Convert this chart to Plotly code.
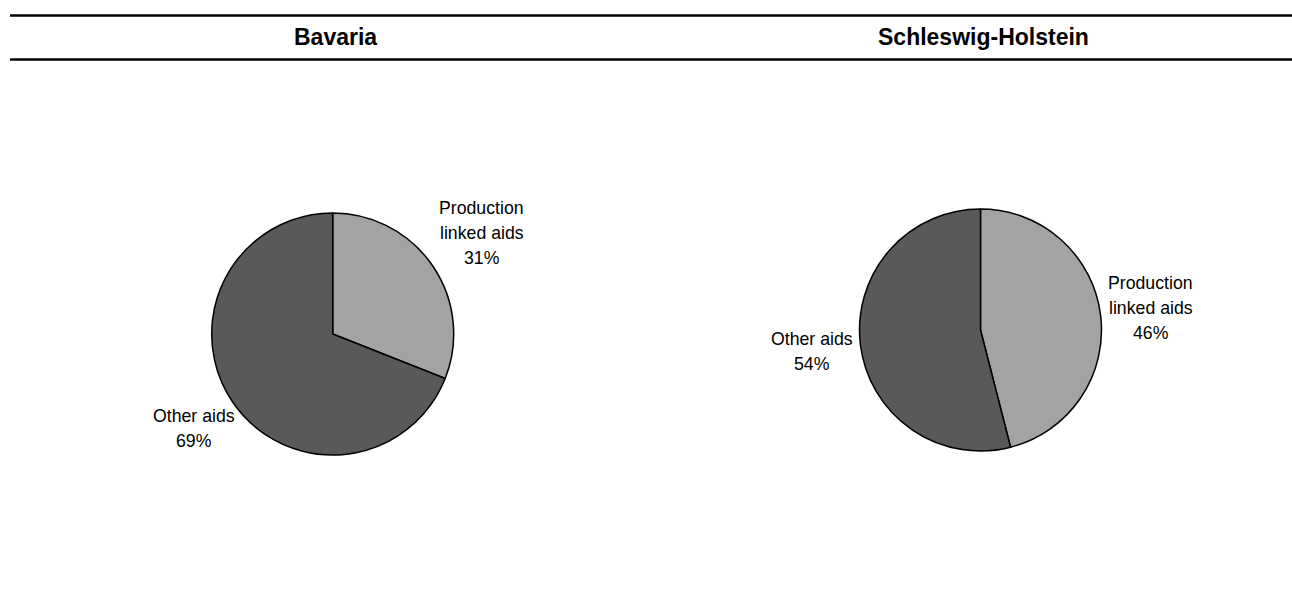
import math
import plotly.graph_objects as go

# ---- data -------------------------------------------------------------
regions = ["Bavaria", "Schleswig-Holstein"]
aid_types = ["Production linked aids", "Other aids"]
aid_label_lines = [["Production", "linked aids"], ["Other aids"]]
bavaria_share = [31, 69]
schleswig_holstein_share = [46, 54]
slice_colors = ["#a3a3a3", "#595959"]

# ---- layout geometry (pixels) ----------------------------------------
W, H = 1292, 601
pie_centers = [(332.7, 334.0), (980.5, 330.0)]
R = 121
LABEL_SIZE = 17.7
TITLE_SIZE = 23
LINE_STEP = 25
LABEL_GAP = 8
FONT = "Liberation Sans, Arial, sans-serif"

# Arial / Liberation Sans advance widths (per 1000 em) for label text
ADV = {"P": 667, "r": 333, "o": 556, "d": 556, "u": 556, "c": 500, "t": 278,
       "i": 222, "n": 556, "l": 222, "k": 500, "e": 556, " ": 278, "a": 556,
       "s": 500, "O": 778, "h": 556, "%": 889}


def text_width(s, size):
    return sum(ADV.get(ch, 556) for ch in s) * size / 1000.0


def px(x, y):
    return x / W, 1 - y / H


fig = go.Figure()
annotations = []

for region, shares, (cx, cy) in zip(regions, [bavaria_share, schleswig_holstein_share], pie_centers):
    x0, y1 = px(cx - R, cy - R)
    x1, y0 = px(cx + R, cy + R)
    fig.add_trace(go.Pie(
        labels=aid_types,
        values=shares,
        sort=False,
        direction="clockwise",
        rotation=0,
        textinfo="none",
        hoverinfo="label+percent",
        marker=dict(colors=slice_colors, line=dict(color="black", width=1.5)),
        domain=dict(x=[x0, x1], y=[y0, y1]),
        showlegend=False,
        name=region,
    ))

    # region title
    tx, ty = px(cx + 3, 37)
    annotations.append(dict(
        x=tx, y=ty, xref="paper", yref="paper", showarrow=False,
        xanchor="center", yanchor="middle",
        text=f"<b>{region}</b>",
        font=dict(family=FONT, size=TITLE_SIZE, color="black"),
    ))

    # slice labels, placed just outside each slice's mid-angle
    total = sum(shares)
    start = 0
    for lines, v in zip(aid_label_lines, shares):
        mid = math.radians((start + v / 2) / total * 360)
        start += v
        sx, sy = math.sin(mid), -math.cos(mid)
        all_lines = lines + [f"{v / total * 100:.0f}%"]
        n = len(all_lines)
        hw = max(text_width(s, LABEL_SIZE) for s in all_lines) / 2
        hh = (n - 1) * LINE_STEP / 2 + 9
        ext = min(hw / abs(sx) if abs(sx) > 1e-6 else 1e9,
                  hh / abs(sy) if abs(sy) > 1e-6 else 1e9)
        d = R + LABEL_GAP + ext
        lx, ly = cx + d * sx, cy + d * sy
        for i, s in enumerate(all_lines):
            ax, ay = px(lx, ly + (i - (n - 1) / 2) * LINE_STEP)
            annotations.append(dict(
                x=ax, y=ay, xref="paper", yref="paper", showarrow=False,
                xanchor="center", yanchor="middle", text=s,
                font=dict(family=FONT, size=LABEL_SIZE, color="black"),
            ))

# header rules
shapes = []
for y in (15.5, 59.5):
    _, py = px(0, y)
    shapes.append(dict(type="line", xref="paper", yref="paper",
                       x0=10 / W, x1=1, y0=py, y1=py,
                       line=dict(color="black", width=2.5)))

fig.update_layout(
    width=W, height=H,
    margin=dict(l=0, r=0, t=0, b=0),
    paper_bgcolor="white", plot_bgcolor="white",
    annotations=annotations,
    shapes=shapes,
    font=dict(family=FONT),
)

fig.write_html("out.html")
